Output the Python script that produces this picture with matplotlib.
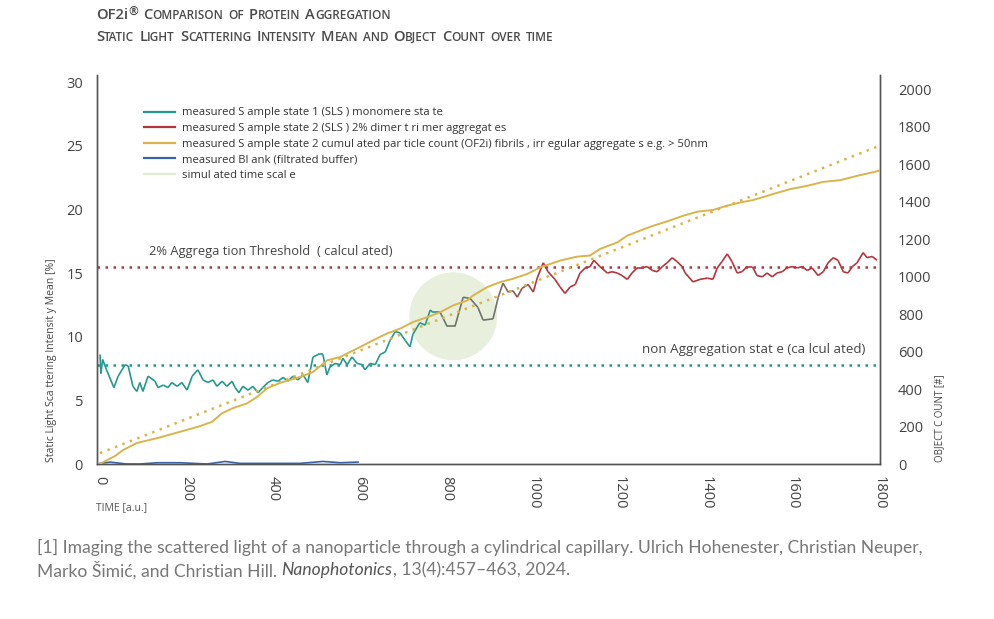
import numpy as np
import matplotlib
matplotlib.use("Agg")
import matplotlib.pyplot as plt
from matplotlib.collections import LineCollection
from matplotlib.lines import Line2D
from matplotlib.colors import to_rgb

plt.rcParams['font.family'] = ['Open Sans', 'DejaVu Sans']

# SLS sample state 1 (monomere state) [%]
t_state1 = [0, 2, 6, 15, 32, 42, 58, 65, 76, 85, 92, 99, 111, 127, 134, 146, 157, 166, 178, 189,
            201, 213, 226, 238, 249, 261, 270, 282, 293, 305, 312, 321, 330, 342, 353, 365, 376,
            388, 399, 411, 423, 434, 446, 457, 469, 480, 492, 504, 515, 524, 531, 543, 555, 561,
            571, 582, 594, 605, 612, 624, 636, 647, 659, 670, 682, 693, 705, 716, 723, 739, 751,
            763, 769, 786]
v_state1 = [8.6, 7.1, 8.2, 7.4, 6.0, 6.9, 7.8, 7.7, 6.1, 5.7, 6.4, 5.7, 6.9, 6.5, 6.0, 6.2, 6.0,
            6.4, 6.1, 6.4, 5.8, 6.9, 7.4, 6.6, 6.4, 6.6, 6.1, 6.5, 6.1, 6.5, 6.0, 5.6, 6.1, 5.8,
            6.1, 5.6, 6.0, 6.4, 6.6, 6.5, 6.8, 6.5, 6.9, 6.6, 7.0, 6.4, 8.4, 8.6, 8.6, 7.0, 7.6,
            7.9, 7.8, 8.3, 7.8, 8.4, 7.9, 7.8, 7.4, 7.9, 7.8, 8.6, 8.8, 9.7, 10.4, 10.3, 9.7, 9.2,
            10.2, 11.1, 10.9, 12.1, 11.9, 11.9]

# SLS sample state 2 (2% dimer trimer aggregates) [%]
t_state2 = [786, 802, 820, 839, 855, 873, 885, 908, 920, 931, 943, 954, 964, 975, 989, 1001,
            1010, 1024, 1035, 1051, 1063, 1074, 1086, 1098, 1109, 1121, 1132, 1141, 1155, 1172,
            1183, 1195, 1206, 1218, 1229, 1241, 1252, 1264, 1276, 1287, 1299, 1310, 1322, 1333,
            1345, 1352, 1370, 1386, 1403, 1416, 1426, 1437, 1449, 1460, 1472, 1483, 1495, 1507,
            1518, 1530, 1541, 1553, 1564, 1576, 1587, 1599, 1611, 1622, 1634, 1645, 1659, 1671,
            1682, 1694, 1705, 1717, 1728, 1738, 1749, 1763, 1772, 1784, 1795]
v_state2 = [11.9, 10.8, 10.8, 13.1, 13.0, 12.3, 11.3, 11.4, 13.1, 14.2, 13.5, 13.6, 13.1, 13.8,
            14.1, 13.5, 14.6, 15.8, 15.1, 14.5, 13.9, 13.4, 13.9, 14.1, 15.0, 15.4, 15.5, 16.0,
            15.5, 15.0, 15.1, 15.0, 14.8, 14.5, 15.0, 15.4, 15.4, 15.5, 15.2, 15.1, 15.5, 15.8,
            16.2, 15.9, 15.5, 15.0, 14.3, 14.5, 14.6, 14.5, 15.4, 15.9, 16.5, 15.9, 15.0, 15.1,
            15.5, 15.5, 14.8, 14.7, 15.0, 14.7, 15.0, 15.1, 15.4, 15.5, 15.4, 15.5, 15.2, 15.4,
            14.8, 15.1, 15.8, 16.2, 16.0, 15.1, 15.0, 15.5, 15.8, 16.6, 16.2, 16.3, 16.0]

# cumulated particle count OF2i [#]
t_count = [0, 16, 35, 53, 85, 132, 185, 231, 259, 282, 307, 340, 363, 386, 416, 462, 492, 525,
           555, 585, 601, 631, 663, 693, 723, 756, 786, 816, 848, 862, 894, 924, 954, 987, 1017,
           1063, 1102, 1132, 1155, 1195, 1218, 1248, 1278, 1310, 1347, 1380, 1416, 1449, 1479,
           1509, 1555, 1594, 1634, 1671, 1710, 1749, 1800]
v_count = [0, 21, 43, 74, 112, 138, 172, 202, 225, 271, 298, 324, 358, 404, 433, 464, 491, 553,
           571, 606, 624, 660, 696, 722, 757, 783, 810, 846, 872, 899, 943, 970, 988, 1014, 1049,
           1085, 1106, 1112, 1147, 1182, 1218, 1245, 1271, 1294, 1324, 1346, 1355, 1378, 1395,
           1408, 1440, 1466, 1484, 1505, 1514, 1537, 1564]

# count trend (dotted)
t_trend = [0, 1800]
v_trend = [58, 1697]

# blank (filtrated buffer) [%]
t_blank = [0, 23, 62, 92, 132, 185, 247, 289, 323, 400, 462, 515, 555, 596]
v_blank = [0.05, 0.15, 0.0, 0.0, 0.1, 0.1, 0.0, 0.2, 0.05, 0.05, 0.05, 0.2, 0.1, 0.15]

threshold_aggr = 15.5
threshold_mono = 7.8
highlight = (816, 11.6)

xticks = [0, 200, 400, 600, 800, 1000, 1200, 1400, 1600, 1800]
lticks = [0, 5, 10, 15, 20, 25, 30]
rticks = [0, 200, 400, 600, 800, 1000, 1200, 1400, 1600, 1800, 2000]

legend_labels = ["measured S ample state 1 (SLS ) monomere sta te",
                 "measured S ample state 2 (SLS ) 2% dimer t ri mer aggregat es",
                 "measured S ample state 2 cumul ated par ticle count (OF2i) fibrils , irr egular aggregate s e.g. > 50nm",
                 "measured Bl ank (filtrated buffer)",
                 "simul ated time scal e"]

teal = '#23998e'
red = '#b3353b'
gold = '#d8b54c'
blue = '#3c62a6'
pale = '#e2eacf'
grey_mid = '#6f7468'
txt = '#444444'

W, H = 994, 619
fig = plt.figure(figsize=(W / 100, H / 100), dpi=100)
ax = fig.add_axes([97 / W, 1 - 464 / H, (880 - 97) / W, (464 - 75) / H])
ax2 = ax.twinx()

ax.set_xlim(-7, 1802)
ax.set_ylim(0, 30.55)
ax2.set_ylim(0, 2075)

# highlight circle
ax.scatter([highlight[0]], [highlight[1]], s=4000, color='#e8f0dd', edgecolors='none', zorder=0.5)

# sls line, teal -> grey -> red
t_all = np.array(t_state1 + t_state2[1:], dtype=float)
v_all = np.array(v_state1 + v_state2[1:], dtype=float)
stops_x = [0, 765, 800, 915, 1020, 1800]
stops_c = [teal, teal, grey_mid, grey_mid, red, red]
rgb = np.array([to_rgb(c) for c in stops_c])
mid = (t_all[:-1] + t_all[1:]) / 2
cols = np.stack([np.interp(mid, stops_x, rgb[:, i]) for i in range(3)], axis=1)
segs = np.stack([np.column_stack([t_all[:-1], v_all[:-1]]),
                 np.column_stack([t_all[1:], v_all[1:]])], axis=1)
ax.add_collection(LineCollection(segs, colors=cols, linewidths=1.2, zorder=3))

ax.plot(t_blank, v_blank, color=blue, lw=1.2, zorder=3)

ax.axhline(threshold_aggr, color='#c0333a', lw=1.8, ls=(0, (1, 2.2)), zorder=2)
ax.axhline(threshold_mono, color=teal, lw=1.8, ls=(0, (1, 2.2)), zorder=2)

ax.text(112, threshold_aggr + 0.65, "2% Aggrega tion Threshold  ( calcul ated)",
        fontsize=9.3, color=txt, va='bottom', ha='left')
ax.text(1768, threshold_mono + 0.65, "non Aggregation stat e (ca lcul ated)",
        fontsize=9.6, color=txt, va='bottom', ha='right')

ax2.plot(t_count, v_count, color=gold, lw=1.4, zorder=3)
ax2.plot(t_trend, v_trend, color=gold, lw=1.8, ls=(0, (1, 2.2)), zorder=2)

# axes styling
for a in (ax, ax2):
    a.spines['top'].set_visible(False)
    for s in ('left', 'right', 'bottom'):
        a.spines[s].set_color('#555555')
        a.spines[s].set_linewidth(1.0)
ax.set_xticks(xticks)
ax.set_xticklabels([str(v) for v in xticks], rotation=-90, fontsize=10.5, color=txt)
ax.set_yticks(lticks)
ax.set_yticklabels([str(v) for v in lticks], fontsize=10.5, color=txt)
ax2.set_yticks(rticks)
ax2.set_yticklabels([str(v) for v in rticks], fontsize=10.5, color=txt)
ax.tick_params(axis='x', length=0, pad=9)
ax.tick_params(axis='y', length=0, pad=10)
ax2.tick_params(axis='y', length=0, pad=13)

fig.text(52 / W, 1 - 360 / H, "Static Light Sca ttering Intensit y Mean [%]", rotation=90,
         fontsize=7.5, color=txt, ha='center', va='center')
fig.text(940 / W, 1 - 418 / H, "OBJECT C OUNT [#]", rotation=90,
         fontsize=7, color=txt, ha='center', va='center')
fig.text(96 / W, 1 - 508 / H, "TIME [a.u.]", fontsize=7.5, color='#555555',
         ha='left', va='center')

handles = [Line2D([], [], color=c, lw=1.6) for c in (teal, red, gold, blue, pale)]
ax.legend(handles, legend_labels, loc='upper left', bbox_to_anchor=(42 / 783, 1 - 28 / 389),
          frameon=False, fontsize=8.1, handlelength=2.8, handletextpad=0.6,
          labelspacing=0.4, labelcolor='#333333', borderaxespad=0)

# small caps title
renderer = fig.canvas.get_renderer()


def smallcaps(x, y, words, big=10.5, small=8.5, gap=5.0):
    xp = x * W
    for w in words:
        if w == "OF2i®":
            parts = [("OF2i", big, 0), ("®", small, 4)]
        elif w[0].isupper():
            parts = [(w[0], big, 0), (w[1:].upper(), small, 0)]
        else:
            parts = [(w.upper(), small, 0)]
        for s, fs, rise in parts:
            t = fig.text(xp / W, y + rise / H, s, fontsize=fs, color='#4a4a4a', weight='semibold',
                         ha='left', va='baseline')
            xp = t.get_window_extent(renderer).x1
        xp += gap


smallcaps(96 / W, 1 - 19 / H, ["OF2i®", "Comparison", "of", "Protein", "Aggregation"])
smallcaps(96 / W, 1 - 41 / H, ["Static", "Light", "Scattering", "Intensity", "Mean", "and",
                               "Object", "Count", "over", "time"])

foot = dict(fontsize=12.6, color='#777777', family=['Lato', 'DejaVu Sans'], ha='left', va='center')
fig.text(37 / W, 1 - 547 / H,
         "[1] Imaging the scattered light of a nanoparticle through a cylindrical capillary. "
         "Ulrich Hohenester, Christian Neuper,", **foot)
t1 = fig.text(37 / W, 1 - 570 / H, "Marko Šimić, and Christian Hill. ", **foot)
x1 = t1.get_window_extent(renderer).x1
t2 = fig.text(x1 / W, 1 - 570 / H, "Nanophotonics", style='italic', **dict(foot, color='#555555'))
x2 = t2.get_window_extent(renderer).x1
fig.text(x2 / W, 1 - 570 / H, ", 13(4):457–463, 2024.", **foot)

fig.savefig("out.png", dpi=100)
